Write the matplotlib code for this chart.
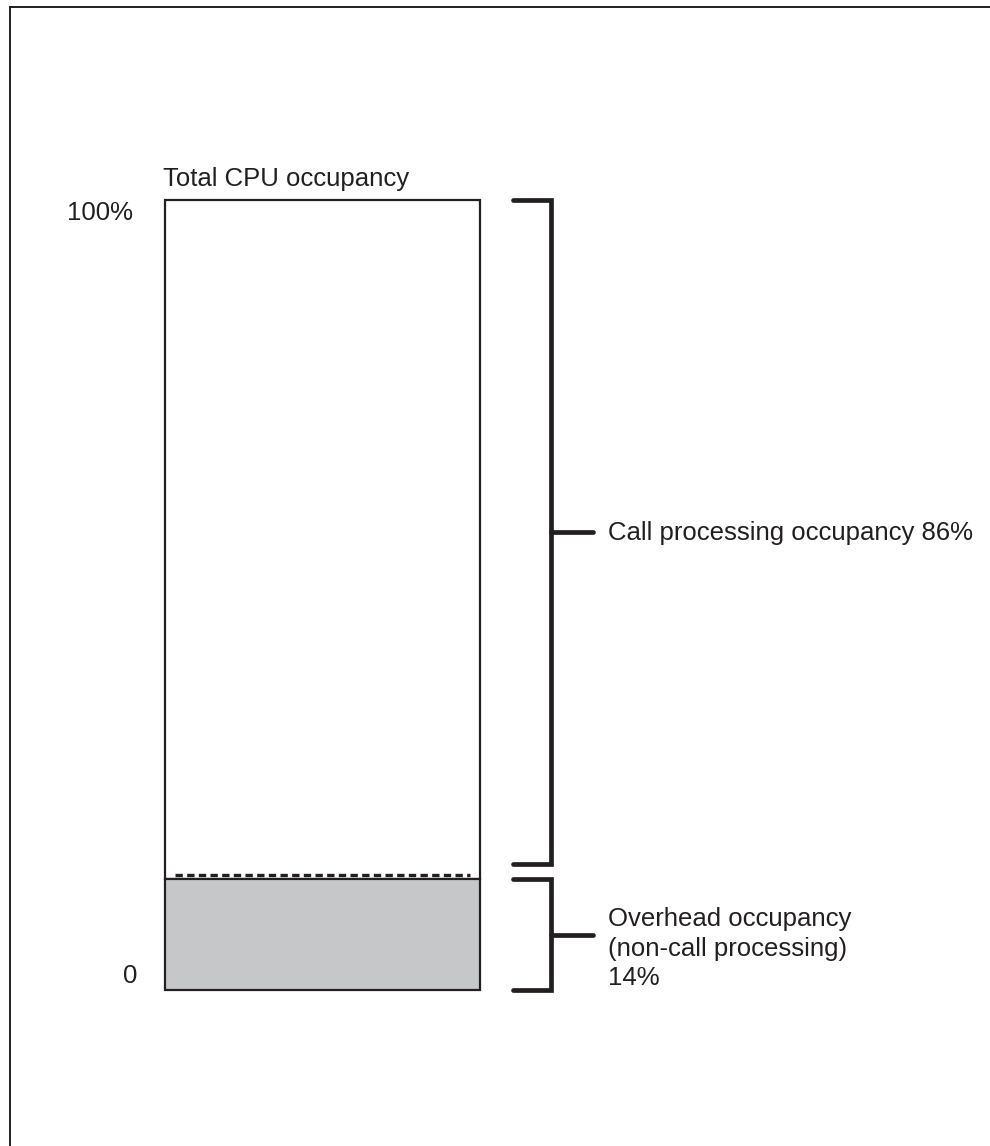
import matplotlib
matplotlib.use('Agg')
import matplotlib.pyplot as plt

# occupancy shares (percent of total CPU)
overhead = 14
call_proc = 86
tick_labels = ['0', '100%']
title = 'Total CPU occupancy'
call_label = 'Call processing occupancy 86%'
overhead_label = 'Overhead occupancy\n(non-call processing)\n14%'

plt.rcParams['font.family'] = ['Liberation Sans', 'DejaVu Sans']
ink = '#231f20'
fs = 18.5

W, H = 990, 1146
fig = plt.figure(figsize=(W / 100, H / 100), dpi=100)
fig.set_facecolor('white')

# one axes over the whole figure: x in pixels, y in percent
ax = fig.add_axes([0, 0, 1, 1])
ax.set_axis_off()
ypx = 7.9  # pixels per percent
ax.set_xlim(0, W)
ax.set_ylim(-(H - 990) / ypx, 100 + 200 / ypx)

total = overhead + call_proc
x0, x1 = 165, 480
ax.bar((x0 + x1) / 2, overhead, width=x1 - x0, bottom=0, color='#c6c7c9',
       edgecolor=ink, lw=1.6, zorder=2)
ax.bar((x0 + x1) / 2, call_proc, width=x1 - x0, bottom=overhead,
       color='white', edgecolor=ink, lw=1.6, zorder=1)
# wavy boundary just above the grey part
ax.plot([x0 + 10, x1 - 10], [overhead + 0.5] * 2, color=ink, lw=2.4,
        ls=(0, (2.2, 1.3)), zorder=3)

ax.text(x0 - 2, total + 14 / ypx, title, fontsize=fs, color=ink,
        ha='left', va='baseline')
ax.text(133, total - 13 / ypx, tick_labels[1], fontsize=fs, color=ink,
        ha='right', va='center')
ax.text(137, 14 / ypx, tick_labels[0], fontsize=fs, color=ink,
        ha='right', va='center')

# brackets
bx0, bx1, bt = 513, 551, 593
gap = 2.0
def bracket(lo, hi, label, dy):
    ax.plot([bx0, bx1, bx1, bx0], [hi, hi, lo, lo], color=ink, lw=3.4,
            solid_capstyle='round', solid_joinstyle='miter')
    mid = (lo + hi) / 2
    ax.plot([bx1, bt], [mid, mid], color=ink, lw=3.4, solid_capstyle='round')
    ax.text(608, mid + dy, label, fontsize=fs, color=ink, ha='left',
            va='center', linespacing=1.3)

bracket(overhead + gap, total, call_label, -1 / ypx)
bracket(0, overhead, overhead_label, -14 / ypx)

# frame lines (top and left)
fig.add_artist(plt.Line2D([10 / W, 10 / W], [0, 1 - 7 / H], color=ink,
                          lw=1.4, transform=fig.transFigure))
fig.add_artist(plt.Line2D([10 / W, 1], [1 - 7 / H, 1 - 7 / H], color=ink,
                          lw=1.4, transform=fig.transFigure))

plt.savefig('out.png', dpi=100)
